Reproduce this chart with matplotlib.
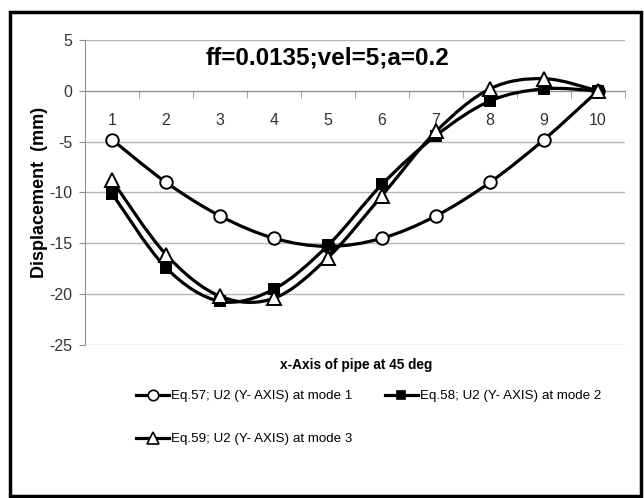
import matplotlib.pyplot as plt
import numpy as np
from matplotlib.path import Path
from matplotlib.patches import PathPatch, Rectangle
from matplotlib.lines import Line2D

plt.rcParams['font.family'] = ['Liberation Sans', 'DejaVu Sans']
plt.rcParams['axes.unicode_minus'] = False

# datos
puntos = [1, 2, 3, 4, 5, 6, 7, 8, 9, 10]
modo1 = [-4.8, -9.0, -12.3, -14.5, -15.3, -14.5, -12.3, -9.0, -4.8, 0.0]
modo2 = [-10.1, -17.4, -20.7, -19.5, -15.2, -9.2, -4.4, -1.0, 0.2, 0.0]
modo3 = [-8.8, -16.1, -20.2, -20.4, -16.4, -10.3, -4.0, 0.2, 1.2, 0.0]
etiquetas = ['Eq.57; U2 (Y- AXIS) at mode 1',
             'Eq.58; U2 (Y- AXIS) at mode 2',
             'Eq.59; U2 (Y- AXIS) at mode 3']
titulo = 'ff=0.0135;vel=5;a=0.2'


def curva(x, y):
    # linea suavizada tipo excel (bezier por los puntos)
    x = np.asarray(x, float)
    y = np.asarray(y, float)
    px = np.concatenate([[x[0]], x, [x[-1]]])
    py = np.concatenate([[y[0]], y, [y[-1]]])
    verts = [(x[0], y[0])]
    codes = [Path.MOVETO]
    for i in range(len(x) - 1):
        c1 = (x[i] + (px[i + 2] - px[i]) / 6, y[i] + (py[i + 2] - py[i]) / 6)
        c2 = (x[i + 1] - (px[i + 3] - px[i + 1]) / 6, y[i + 1] - (py[i + 3] - py[i + 1]) / 6)
        verts += [c1, c2, (x[i + 1], y[i + 1])]
        codes += [Path.CURVE4] * 3
    return Path(verts, codes)


fig = plt.figure(figsize=(6.44, 4.98), dpi=100)
ax = fig.add_axes([85 / 644, 1 - 345 / 498, 540 / 644, 305 / 498])

estilos = [
    dict(marker='o', markersize=9, markerfacecolor='white'),
    dict(marker='s', markersize=7.5, markerfacecolor='black'),
    dict(marker='^', markersize=9.5, markerfacecolor='white'),
]
series = [modo1, modo2, modo3]

for k, (serie, est) in enumerate(zip(series, estilos)):
    ax.add_patch(PathPatch(curva(puntos, serie), fill=False, lw=2.3,
                           ec='black', zorder=3 + k, capstyle='round'))
    ax.plot(puntos, serie, linestyle='none', markeredgecolor='black',
            markeredgewidth=1.4, zorder=3.5 + k, **est)

ax.set_xlim(0.5, 10.5)
ax.set_ylim(-25, 5)
ax.set_yticks(np.arange(-25, 6, 5))
ax.set_xticks(puntos)
ax.set_xticks(np.arange(0.5, 10.6, 1), minor=True)
ax.tick_params(axis='x', which='major', length=0, pad=16, labelsize=11.5, colors='#333333')
ax.tick_params(axis='x', which='minor', length=5, color='#909090', direction='out')
ax.tick_params(axis='y', length=4, color='#909090', labelsize=11.5, colors='#333333', pad=5)
ax.yaxis.grid(True, color='#b5b5b5', lw=1)
ax.set_axisbelow(True)

ax.spines['bottom'].set_position(('data', 0))
ax.spines['bottom'].set_color('#909090')
ax.spines['left'].set_color('#909090')
ax.spines['top'].set_visible(False)
ax.spines['right'].set_visible(False)

fig.text(328 / 644, 1 - 58 / 498, titulo, ha='center', va='center',
         fontsize=17.5, fontweight='bold')
fig.text(40 / 644, 1 - 192 / 498, 'Displacement  (mm)', rotation=90,
         ha='center', va='center', fontsize=13, fontweight='bold')
fig.text(356 / 644, 1 - 365 / 498, 'x-Axis of pipe at 45 deg', ha='center',
         va='center', fontsize=9.8, fontweight='bold')

manijas = [Line2D([], [], color='black', lw=2.3, markeredgecolor='black',
                  markeredgewidth=1.2, **dict(est, markersize=est['markersize'] - 1.5))
           for est in estilos]
# excel llena la leyenda por filas
orden = [0, 2, 1]
fig.legend([manijas[i] for i in orden], [etiquetas[i] for i in orden],
           loc='upper left', bbox_to_anchor=(136 / 644, 1 - 390 / 498),
           ncol=2, frameon=False, fontsize=9.6, handlelength=2.5, handletextpad=0.15,
           columnspacing=2.4, labelspacing=2.3, borderpad=0, borderaxespad=0)

fig.add_artist(Rectangle((10 / 644, 1 - 496 / 498), 631 / 644, 484 / 498,
                         transform=fig.transFigure, fill=False, lw=2.5, ec='black'))

fig.savefig('out.png', dpi=100)
